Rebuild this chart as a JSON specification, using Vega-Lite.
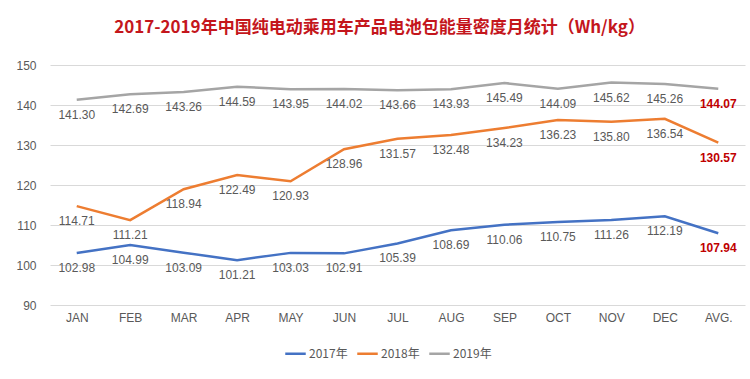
{
  "$schema": "https://vega.github.io/schema/vega-lite/v6.json",
  "autosize": "none",
  "width": 695,
  "height": 240,
  "padding": {"left": 50, "top": 65, "right": 5, "bottom": 74},
  "background": "white",
  "title": {
    "text": "2017-2019年中国纯电动乘用车产品电池包能量密度月统计（Wh/kg）",
    "font": "Noto Sans CJK SC",
    "fontSize": 17,
    "fontWeight": "bold",
    "color": "#C4161C",
    "anchor": "middle",
    "dx": -18,
    "offset": 22
  },
  "config": {
    "view": {"stroke": null},
    "font": "Liberation Sans",
    "axis": {"labelFont": "Liberation Sans", "labelColor": "#595959", "labelFontSize": 12},
    "legend": {"labelFont": "Noto Sans CJK SC", "labelColor": "#595959", "labelFontSize": 12}
  },
  "data": {
    "values": [
      {"month": "JAN", "year": "2017年", "value": 102.98},
      {"month": "FEB", "year": "2017年", "value": 104.99},
      {"month": "MAR", "year": "2017年", "value": 103.09},
      {"month": "APR", "year": "2017年", "value": 101.21},
      {"month": "MAY", "year": "2017年", "value": 103.03},
      {"month": "JUN", "year": "2017年", "value": 102.91},
      {"month": "JUL", "year": "2017年", "value": 105.39},
      {"month": "AUG", "year": "2017年", "value": 108.69},
      {"month": "SEP", "year": "2017年", "value": 110.06},
      {"month": "OCT", "year": "2017年", "value": 110.75},
      {"month": "NOV", "year": "2017年", "value": 111.26},
      {"month": "DEC", "year": "2017年", "value": 112.19},
      {"month": "AVG.", "year": "2017年", "value": 107.94},
      {"month": "JAN", "year": "2018年", "value": 114.71},
      {"month": "FEB", "year": "2018年", "value": 111.21},
      {"month": "MAR", "year": "2018年", "value": 118.94},
      {"month": "APR", "year": "2018年", "value": 122.49},
      {"month": "MAY", "year": "2018年", "value": 120.93},
      {"month": "JUN", "year": "2018年", "value": 128.96},
      {"month": "JUL", "year": "2018年", "value": 131.57},
      {"month": "AUG", "year": "2018年", "value": 132.48},
      {"month": "SEP", "year": "2018年", "value": 134.23},
      {"month": "OCT", "year": "2018年", "value": 136.23},
      {"month": "NOV", "year": "2018年", "value": 135.80},
      {"month": "DEC", "year": "2018年", "value": 136.54},
      {"month": "AVG.", "year": "2018年", "value": 130.57},
      {"month": "JAN", "year": "2019年", "value": 141.30},
      {"month": "FEB", "year": "2019年", "value": 142.69},
      {"month": "MAR", "year": "2019年", "value": 143.26},
      {"month": "APR", "year": "2019年", "value": 144.59},
      {"month": "MAY", "year": "2019年", "value": 143.95},
      {"month": "JUN", "year": "2019年", "value": 144.02},
      {"month": "JUL", "year": "2019年", "value": 143.66},
      {"month": "AUG", "year": "2019年", "value": 143.93},
      {"month": "SEP", "year": "2019年", "value": 145.49},
      {"month": "OCT", "year": "2019年", "value": 144.09},
      {"month": "NOV", "year": "2019年", "value": 145.62},
      {"month": "DEC", "year": "2019年", "value": 145.26},
      {"month": "AVG.", "year": "2019年", "value": 144.07}
    ]
  },
  "encoding": {
    "x": {
      "field": "month",
      "type": "nominal",
      "sort": null,
      "scale": {"type": "point", "padding": 0.5},
      "axis": {"title": null, "labelAngle": 0, "ticks": false, "domain": false, "labelPadding": 7, "grid": false}
    },
    "y": {
      "field": "value",
      "type": "quantitative",
      "scale": {"domain": [90, 150], "nice": false, "zero": false},
      "axis": {"title": null, "values": [90, 100, 110, 120, 130, 140, 150], "ticks": false, "domain": false, "labelPadding": 14, "gridColor": "#D9D9D9", "gridWidth": 1}
    }
  },
  "layer": [
    {
      "mark": {"type": "line", "strokeWidth": 2.5},
      "encoding": {
        "color": {
          "field": "year",
          "type": "nominal",
          "scale": {"domain": ["2017年", "2018年", "2019年"], "range": ["#4472C4", "#ED7D31", "#A5A5A5"]},
          "legend": {
            "title": null,
            "orient": "none",
            "legendX": 234,
            "legendY": 277,
            "direction": "horizontal",
            "symbolType": "stroke",
            "symbolStrokeWidth": 2.5,
            "symbolSize": 420,
            "columnPadding": 4,
            "labelOffset": 2
          }
        }
      }
    },
    {
      "transform": [{"filter": "datum.month !== 'AVG.'"}],
      "mark": {"type": "text", "dy": 15, "fontSize": 12, "color": "#595959", "font": "Liberation Sans"},
      "encoding": {"text": {"field": "value", "type": "quantitative", "format": ".2f"}}
    },
    {
      "transform": [{"filter": "datum.month === 'AVG.'"}],
      "mark": {"type": "text", "dy": 15, "fontSize": 12, "fontWeight": "bold", "color": "#C00000", "font": "Liberation Sans"},
      "encoding": {"text": {"field": "value", "type": "quantitative", "format": ".2f"}}
    }
  ]
}
